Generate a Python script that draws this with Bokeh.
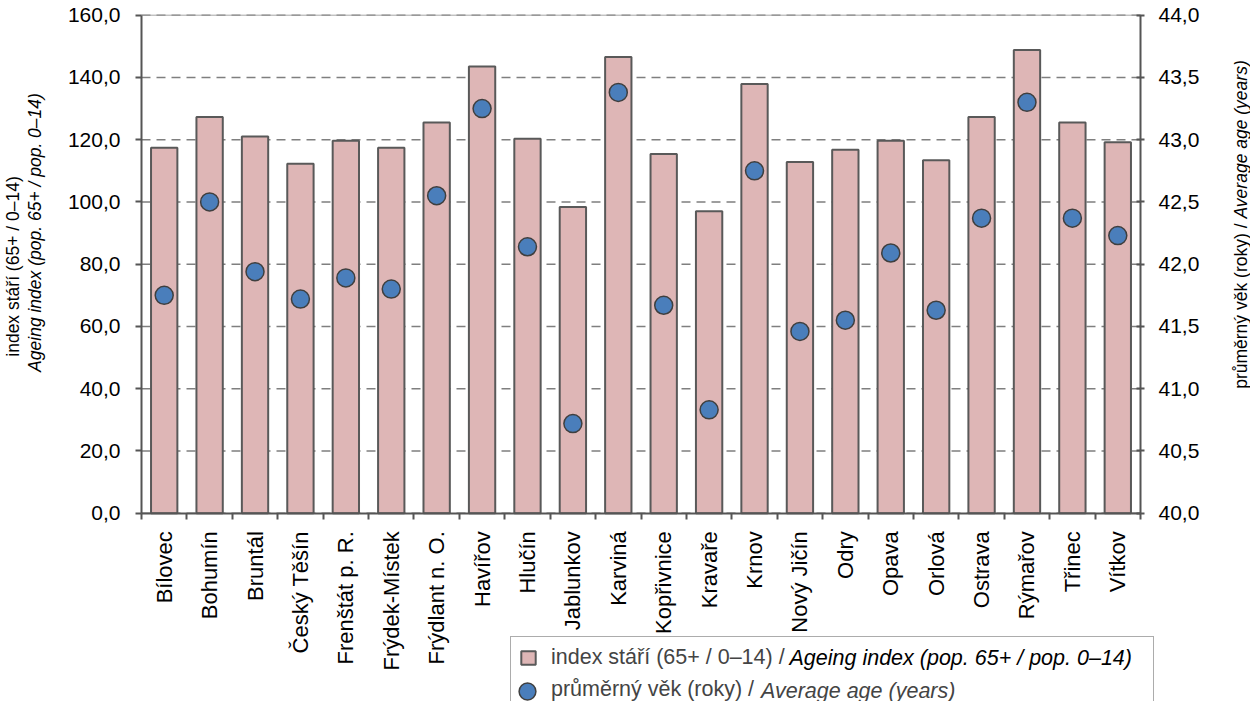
import math
from bokeh.plotting import figure
from bokeh.models import (Range1d, LinearAxis, FixedTicker, Legend, LegendItem,
                          Label, ColumnDataSource)
from bokeh.embed import file_html
from bokeh.resources import INLINE

# ---------------- data ----------------
towns = ["Bílovec", "Bohumín", "Bruntál", "Český Těšín", "Frenštát p. R.",
         "Frýdek-Místek", "Frýdlant n. O.", "Havířov", "Hlučín", "Jablunkov",
         "Karviná", "Kopřivnice", "Kravaře", "Krnov", "Nový Jičín", "Odry",
         "Opava", "Orlová", "Ostrava", "Rýmařov", "Třinec", "Vítkov"]
ageing_index = [117.4, 127.3, 121.0, 112.3, 119.7, 117.4, 125.5, 143.5, 120.3, 98.4,
                146.6, 115.4, 97.0, 137.9, 112.8, 116.8, 119.7, 113.4, 127.3, 148.8,
                125.5, 119.2]
average_age = [41.75, 42.50, 41.94, 41.72, 41.89, 41.80, 42.55, 43.25, 42.14, 40.72,
               43.38, 41.67, 40.83, 42.75, 41.46, 41.55, 42.09, 41.63, 42.37, 43.30,
               42.37, 42.23]
left_ticks = [0, 20, 40, 60, 80, 100, 120, 140, 160]
right_ticks = [40.0, 40.5, 41.0, 41.5, 42.0, 42.5, 43.0, 43.5, 44.0]

title_left_1 = "index stáří (65+ / 0–14)"
title_left_2 = "Ageing index (pop. 65+ / pop. 0–14)"
title_right_1 = "průměrný věk (roky) /"
title_right_2 = "Average age (years)"
legend_1a = "index stáří (65+ / 0–14) /"
legend_1b = "Ageing index (pop. 65+ / pop. 0–14)"
legend_2a = "průměrný věk (roky) /"
legend_2b = "Average age (years)"

# ---------------- style / layout ----------------
FONT = "Liberation Sans"
BAR_FILL = "#DEB6B6"
EDGE = "#595959"
DOT_FILL = "#4A7EBB"
AXIS = "#555555"
GRID = "#7f7f7f"

W, H = 1250, 701
# plot-area edges in canvas pixels (canvas starts at page offset 8,8)
PL, PR, PT, PB = 141.0, 1140.0, 14.7, 512.7
n = len(towns)
ymax_left = 160.0
age_lo, age_hi = 40.0, 44.0

x_per = (PR - PL) / n
y_per = (PB - PT) / ymax_left
x_start, x_end = -PL / x_per, n + (W - PR) / x_per
y_start, y_end = -(H - PB) / y_per, ymax_left + PT / y_per
k = (age_hi - age_lo) / ymax_left
slot = [i + 0.5 for i in range(n)]
bounds = list(range(n + 1))

p = figure(width=W, height=H, x_range=Range1d(x_start, x_end),
           y_range=Range1d(y_start, y_end), x_axis_type=None, y_axis_type=None,
           output_backend="svg", toolbar_location=None, min_border=0,
           min_border_left=0, min_border_right=0, min_border_top=0,
           min_border_bottom=0)
p.extra_y_ranges = {"age": Range1d(age_lo + y_start * k, age_lo + y_end * k)}
p.outline_line_color = None
p.background_fill_color = "white"
p.border_fill_color = "white"
p.xgrid.visible = False
p.ygrid.visible = False

def fmt(v):
    return f"{v:.1f}".replace(".", ",")

# dashed horizontal gridlines limited to the plot area
p.segment(x0=[0] * len(left_ticks), x1=[n] * len(left_ticks), y0=left_ticks,
          y1=left_ticks, line_color=GRID, line_width=1.5, line_dash="9 6")
p.segment(x0=[0], x1=[n], y0=[ymax_left], y1=[ymax_left], line_color="#a6a6a6",
          line_width=1)

# left axis
yl = LinearAxis(ticker=FixedTicker(ticks=left_ticks), fixed_location=0,
                bounds=(0, ymax_left),
                major_label_overrides={t: fmt(t) for t in left_ticks})
yl.major_tick_out = 6
yl.major_tick_in = 0
yl.major_label_standoff = 15
yl.major_label_text_font_size = "21px"
p.add_layout(yl, "left")

# right axis
yr = LinearAxis(y_range_name="age", ticker=FixedTicker(ticks=right_ticks),
                fixed_location=n, bounds=(age_lo, age_hi),
                major_label_overrides={t: fmt(t) for t in right_ticks})
yr.major_tick_out = 4
yr.major_tick_in = 4
yr.major_label_standoff = 14
yr.major_label_text_font_size = "21px"
p.add_layout(yr, "right")

# bottom axis: names at slot centres, tick marks at slot boundaries
xb = LinearAxis(ticker=FixedTicker(ticks=slot, minor_ticks=bounds),
                fixed_location=0, bounds=(0, n),
                major_label_overrides={c: t for c, t in zip(slot, towns)})
xb.major_tick_out = 0
xb.major_tick_in = 0
xb.minor_tick_out = 6
xb.minor_tick_in = 0
xb.major_label_orientation = math.pi / 2
xb.major_label_standoff = 12
xb.major_label_text_font_size = "22px"
p.add_layout(xb, "below")

for ax in (yl, yr, xb):
    ax.axis_line_color = AXIS
    ax.axis_line_width = 2
    ax.major_tick_line_color = AXIS
    ax.major_tick_line_width = 2
    ax.minor_tick_line_color = AXIS
    ax.minor_tick_line_width = 2
    ax.major_label_text_font = FONT
    ax.major_label_text_color = "black"
for ax in (yl, yr):
    ax.minor_tick_out = 0
    ax.minor_tick_in = 0

# bars and dots
src = ColumnDataSource(dict(x=slot, town=towns, ageing=ageing_index, age=average_age))
bars = p.vbar(x="x", top="ageing", bottom=0, width=0.58, source=src,
              fill_color=BAR_FILL, line_color=EDGE, line_width=2)
dots = p.scatter(x="x", y="age", source=src, y_range_name="age", size=18,
                 marker="circle", fill_color=DOT_FILL, line_color="#3f3f3f",
                 line_width=1.5)

# legend at the bottom (its lower edge runs past the picture, as in the original)
LFS = "21.5px"
legend = Legend(items=[LegendItem(label=legend_1a, renderers=[bars]),
                       LegendItem(label=legend_2a, renderers=[dots])],
                location=(510, -10), orientation="vertical",
                padding=8, margin=0, spacing=7,
                glyph_width=18, glyph_height=17, label_standoff=14,
                label_width=594, label_height=20,
                label_text_font=FONT, label_text_font_size=LFS,
                border_line_color=EDGE, border_line_width=1.5,
                background_fill_color="white", background_fill_alpha=0)
p.add_layout(legend)

# full-size circle marker + italic text for the second legend row
legend_b = Legend(items=[LegendItem(label=legend_2b, renderers=[dots])],
                  location=(506, -11), orientation="vertical",
                  padding=0, margin=0, spacing=0,
                  glyph_width=42, glyph_height=42, label_standoff=213,
                  label_text_font=FONT, label_text_font_size=LFS,
                  label_text_font_style="italic",
                  border_line_color=None, background_fill_alpha=0)
p.add_layout(legend_b)

def label(x, y, text, **kw):
    base = dict(x=x, y=y, x_units="screen", y_units="screen", text=text,
                text_font=FONT, text_color="black", text_baseline="middle")
    base.update(kw)
    p.add_layout(Label(**base))

label(789, 44, legend_1b, text_font_size=LFS, text_font_style="italic",
      text_align="left")

# left axis title (two lines)
TFS = "17.5px"
label(12, 435, title_left_1, angle=math.pi / 2, text_font_size=TFS,
      text_align="center")
label(34, 469, title_left_2, angle=math.pi / 2, text_font_size=TFS,
      text_font_style="italic", text_align="center")

# right axis title (regular part, then italic part on the same line)
split = 478
label(1240, split, title_right_1, angle=math.pi / 2, text_font_size=TFS,
      text_align="right")
label(1240, split + 5, title_right_2, angle=math.pi / 2, text_font_size=TFS,
      text_font_style="italic", text_align="left")

open("out.html", "w").write(file_html(p, INLINE))
